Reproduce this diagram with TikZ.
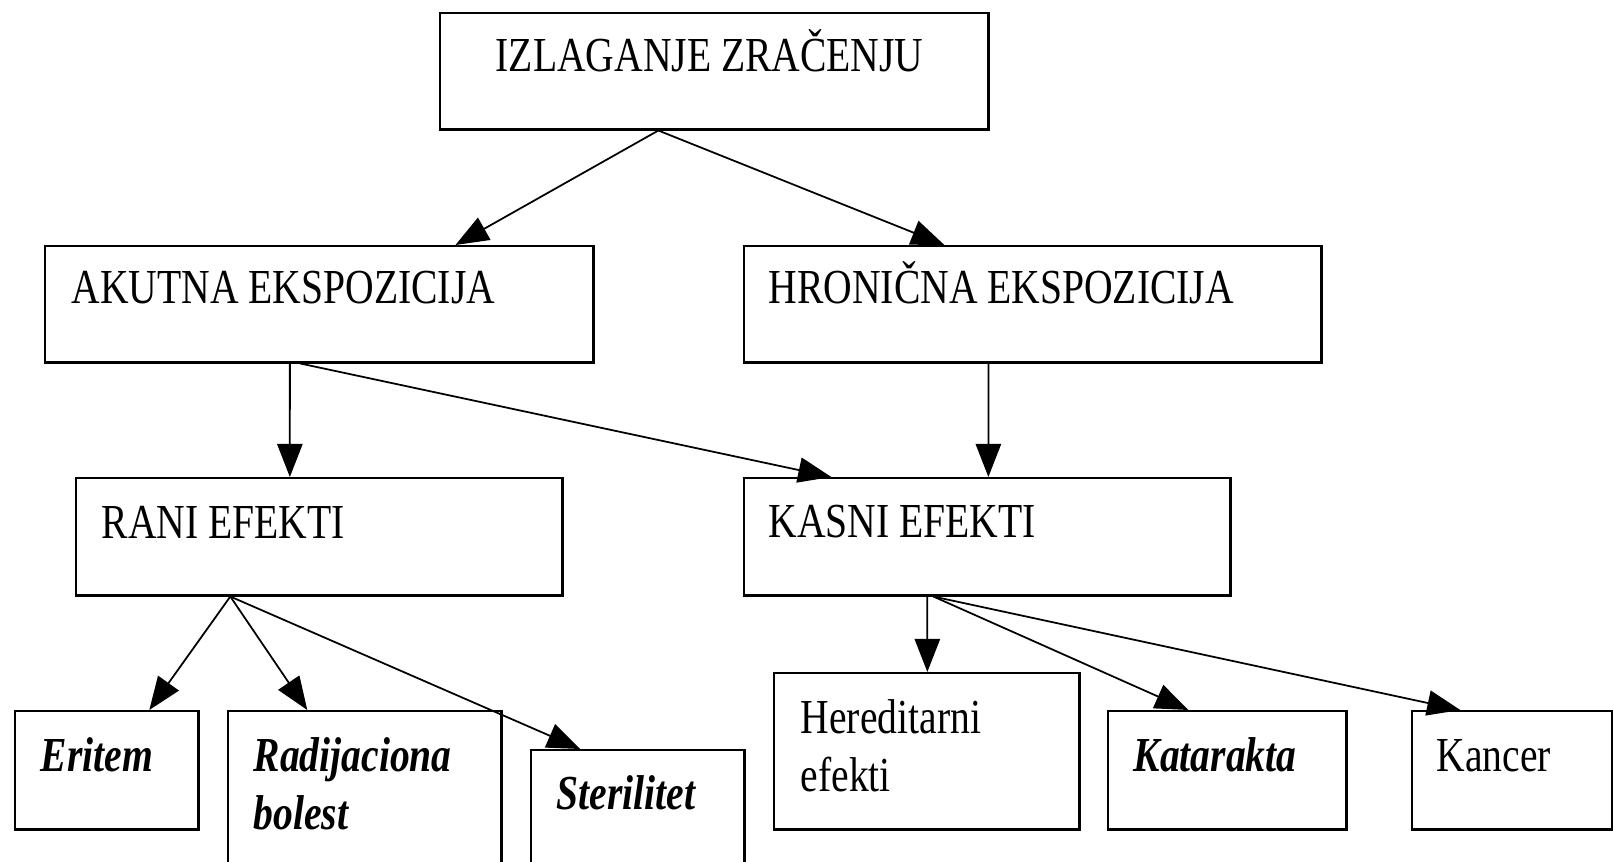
\documentclass[tikz,border=0pt]{standalone}
\usepackage{fontspec}
\setmainfont{Liberation Serif}[FakeStretch=0.81]
\usetikzlibrary{arrows.meta}

\tikzset{
  okvir/.style={draw, line width=0.7pt, inner sep=0pt, anchor=north west},
  natpis/.style={anchor=base west, inner sep=0pt, align=left, font=\fontsize{13.9pt}{16.6pt}\selectfont},
  strelica/.style={line width=0.5pt, -{Triangle[length=9.4pt,width=7.2pt]}}
}

\begin{document}
\begin{tikzpicture}[x=0.01cm, y=-0.01cm]
    \useasboundingbox (0,0) rectangle (1613,862);
    \clip (0,0) rectangle (1613,862);
    \fill[white] (0,0) rectangle (1613,862);

    % Boxes, placed by their top left corner
    \node[okvir, minimum width=5.48cm, minimum height=1.16cm] (izlaganje) at (439,12) {};
    \node[okvir, minimum width=5.48cm, minimum height=1.16cm] (akutna) at (44,245) {};
    \node[okvir, minimum width=5.77cm, minimum height=1.16cm] (hronicna) at (743,245) {};
    \node[okvir, minimum width=4.86cm, minimum height=1.17cm] (rani) at (75,477) {};
    \node[okvir, minimum width=4.86cm, minimum height=1.17cm] (kasni) at (743,477) {};
    \node[okvir, minimum width=1.83cm, minimum height=1.18cm] (eritem) at (14,710) {};
    \node[okvir, minimum width=2.73cm, minimum height=1.90cm] (radijaciona) at (227,710) {};
    \node[okvir, minimum width=2.13cm, minimum height=1.51cm] (sterilitet) at (530,749) {};
    \node[okvir, minimum width=3.05cm, minimum height=1.56cm] (hereditarni) at (773,672) {};
    \node[okvir, minimum width=2.38cm, minimum height=1.18cm] (katarakta) at (1107,710) {};
    \node[okvir, minimum width=2.00cm, minimum height=1.18cm] (kancer) at (1411,710) {};

    % Texts, placed by the baseline of their last line
    \node[natpis] (tizlaganje) at (495,72) {IZLAGANJE ZRAČENJU};
    \node[natpis] (takutna) at (71,304) {AKUTNA EKSPOZICIJA};
    \node[natpis] (thronicna) at (768,304) {HRONIČNA EKSPOZICIJA};
    \node[natpis] (trani) at (101,539) {RANI EFEKTI};
    \node[natpis] (tkasni) at (768,538) {KASNI EFEKTI};
    \node[natpis] (teritem) at (40,772) {\textbf{\textit{Eritem}}};
    \node[natpis] (tradijaciona) at (253,830) {\textbf{\textit{Radijaciona}}\\\textbf{\textit{bolest}}};
    \node[natpis] (tsterilitet) at (556,810) {\textbf{\textit{Sterilitet}}};
    \node[natpis] (thereditarni) at (800,792) {Hereditarni\\efekti};
    \node[natpis] (tkatarakta) at (1133,772) {\textbf{\textit{Katarakta}}};
    \node[natpis] (tkancer) at (1436,772) {Kancer};

    % Connectors
    \draw[strelica] ([xshift=-0.56cm]izlaganje.south) -- ([xshift=1.36cm]akutna.north);
    \draw[strelica] ([xshift=-0.56cm]izlaganje.south) -- ([xshift=-0.885cm]hronicna.north);
    \draw[strelica] ([xshift=-0.295cm]akutna.south) -- ([xshift=-0.295cm]rani.north);
    \draw[strelica] ([xshift=-0.19cm]akutna.south) -- ([xshift=-1.56cm]kasni.north);
    \draw[strelica] ([xshift=-0.445cm]hronicna.south) -- ([xshift=0.01cm]kasni.north);
    \draw[strelica] ([xshift=-0.89cm]rani.south) -- ([xshift=0.425cm]eritem.north);
    \draw[strelica] ([xshift=-0.89cm]rani.south) -- ([xshift=-0.575cm]radijaciona.north);
    \draw[strelica] ([xshift=-0.89cm]rani.south) -- ([xshift=-0.575cm]sterilitet.north);
    \draw[strelica] ([xshift=-0.60cm]kasni.south) -- ([xshift=0.005cm]hereditarni.north);
    \draw[strelica] ([xshift=-0.54cm]kasni.south) -- ([xshift=-0.39cm]katarakta.north);
    \draw[strelica] ([xshift=-0.54cm]kasni.south) -- ([xshift=-0.52cm]kancer.north);
\end{tikzpicture}
\end{document}
